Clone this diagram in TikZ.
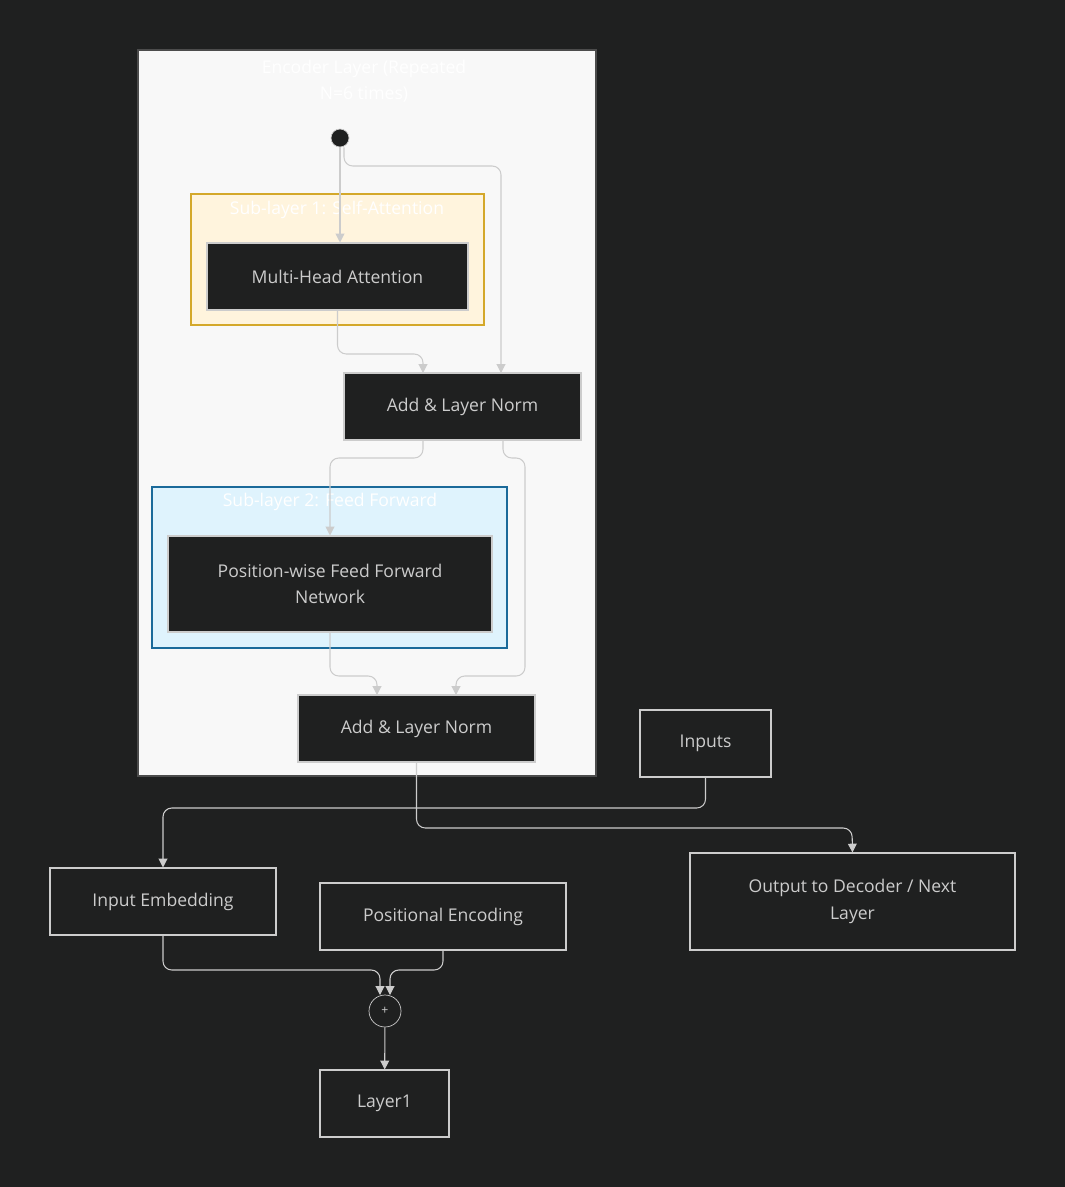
\documentclass[tikz,border=0pt]{standalone}
\usepackage{fontspec}
\setmainfont{Open Sans}
\usetikzlibrary{arrows.meta, positioning, calc, backgrounds}
\definecolor{canvas}{HTML}{1F2020}
\definecolor{boxfill}{HTML}{1F2020}
\definecolor{boxline}{HTML}{CCCCCC}
\definecolor{linegray}{HTML}{CCCCCC}
\definecolor{outerfill}{HTML}{F8F8F8}
\definecolor{attnfill}{HTML}{FFF4DD}
\definecolor{attnline}{HTML}{D4A82A}
\definecolor{ffnfill}{HTML}{DFF3FD}
\definecolor{ffnline}{HTML}{1B6A9A}
\tikzset{
    block/.style={rectangle, draw=boxline, fill=boxfill, text=boxline, align=center, font=\fontsize{10}{15}\selectfont, line width=0.6pt},
    group/.style={rectangle, line width=0.7pt},
    grouplabel/.style={text=white, font=\fontsize{10}{15}\selectfont, align=center},
    edge/.style={draw=linegray, line width=0.6pt, rounded corners=5pt, -{Triangle[width=5pt,length=5pt]}}
}
\begin{document}
\begin{tikzpicture}[x=0.02cm, y=-0.02cm]
        % Background
        \fill[canvas] (0,0) rectangle (1065,1187);
        \useasboundingbox (0,0) rectangle (1065,1187);

        % Encoder layer container
        \node[group, draw=gray!60!black, fill=outerfill, minimum width=458*0.02cm, minimum height=726*0.02cm] (encoder) at (367,413) {};
        \node[grouplabel] (encoderlabel) at (364,81) {Encoder Layer (Repeated\\N=6 times)};
        \node[circle, fill=canvas, draw=boxline, minimum size=18*0.02cm, inner sep=0pt] (split) at (340,138) {};

        % Sub-layer 1
        \node[group, draw=attnline, fill=attnfill, minimum width=293*0.02cm, minimum height=131*0.02cm] (sub1) at (337.5,259.5) {};
        \node[grouplabel] (sub1label) at (337,210) {Sub-layer 1: Self-Attention};
        \node[block, minimum width=261*0.02cm, minimum height=67*0.02cm] (mha) at (337.5,276.5) {Multi-Head Attention};

        \node[block, minimum width=237*0.02cm, minimum height=67*0.02cm] (norm1) at (462.5,406.5) {Add \& Layer Norm};

        % Sub-layer 2
        \node[group, draw=ffnline, fill=ffnfill, minimum width=355*0.02cm, minimum height=161*0.02cm] (sub2) at (329.5,567.5) {};
        \node[grouplabel] (sub2label) at (330,502) {Sub-layer 2: Feed Forward};
        \node[block, minimum width=324*0.02cm, minimum height=96*0.02cm] (ffn) at (330,584) {Position-wise Feed Forward\\Network};

        \node[block, minimum width=237*0.02cm, minimum height=67*0.02cm] (norm2) at (416.5,728.5) {Add \& Layer Norm};

        % Outside nodes
        \node[block, minimum width=131*0.02cm, minimum height=67*0.02cm] (inputs) at (705.5,743.5) {Inputs};
        \node[block, minimum width=226*0.02cm, minimum height=67*0.02cm] (embed) at (163,901.5) {Input Embedding};
        \node[block, minimum width=246*0.02cm, minimum height=67*0.02cm] (posenc) at (443,916.5) {Positional Encoding};
        \node[block, minimum width=325*0.02cm, minimum height=97*0.02cm] (output) at (852.5,901.5) {Output to Decoder / Next\\Layer};
        \node[circle, draw=boxline, fill=boxfill, text=boxline, minimum size=32*0.02cm, inner sep=0pt, font=\scriptsize] (plus) at (385,1011) {+};
        \node[block, minimum width=129*0.02cm, minimum height=67*0.02cm] (layer1) at (384.5,1103.5) {Layer1};

        % Connectors
        \draw[edge] (split) -- (split |- mha.north);
        \draw[edge] ([xshift=4*0.02cm]split.south) |- (501,166) -- (501,373);
        \draw[edge] (mha.south) |- (423,354) -- (423,373);
        \draw[edge] (423,440) |- (330,458) -- (ffn.north -| 330,0);
        \draw[edge] (503,440) |- (525,458) -- (525,676) -| (456,695);
        \draw[edge] (ffn.south) |- (377,676) -- (377,695);
        \draw[edge] (norm2.south) |- (852,828) -- (output.north);
        \draw[edge] (inputs.south) |- (163,808) -- (embed.north);
        \draw[edge] (embed.south) |- (380,970) -- (380,995);
        \draw[edge] (posenc.south) |- (390,970) -- (390,995);
        \draw[edge] (plus) -- (layer1);
\end{tikzpicture}
\end{document}
